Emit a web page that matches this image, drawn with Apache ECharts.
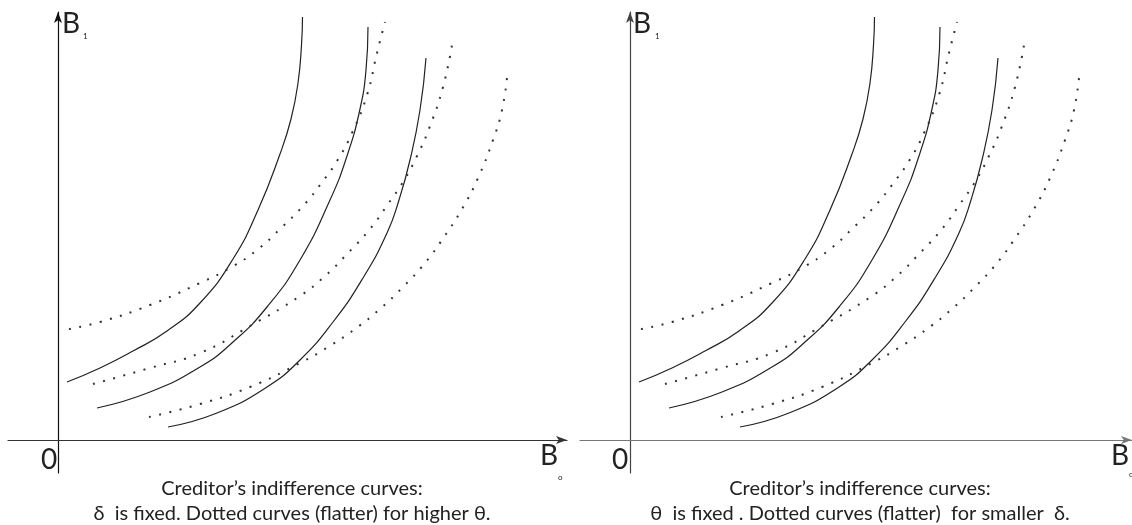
<!DOCTYPE html>
<html>

<head>
    <meta charset="utf-8" />
    <script src="https://cdn.jsdelivr.net/npm/echarts@6/dist/echarts.min.js"></script>
</head>

<body style="margin:0;background:#fff;">
    <div id="main" style="width: 1132px;height:525px;"></div>
    <script type="text/javascript">
        // curve points, [B0, B1] in axis units (1 unit ~ 1px)
        const solid1 = [[9, 58], [42, 72], [75, 89], [109, 109], [142, 137], [175, 181], [200, 230], [222, 286], [233, 321], [240, 357], [243.5, 395], [244.5, 423]];
        const solid2 = [[39, 32], [92, 48], [142, 73], [175, 98], [209, 133], [242, 180], [272, 240], [289, 284], [302, 331], [308, 370], [310, 413]];
        const solid3 = [[110, 13], [159, 27], [209, 53], [242, 80], [275, 118], [305, 162], [329, 207], [341, 240], [352, 280], [362, 330], [368, 382]];
        const dotted1 = [[11, 111], [42, 118], [92, 135], [142, 157], [172, 172], [199, 190], [222, 211], [245, 234], [265, 259], [279, 279], [294, 307], [309, 345], [319, 387], [327, 418]];
        const dotted2 = [[35, 56], [92, 72], [142, 87], [192, 114], [242, 144], [267, 164], [290, 187], [312, 211], [330, 236], [345, 258], [359, 284], [372, 314], [385, 353], [394, 395]];
        const dotted3 = [[91, 23], [142, 36], [192, 53], [242, 77], [270, 93], [297, 111], [322, 131], [345, 153], [367, 177], [386, 203], [404, 231], [420, 262], [435, 300], [444, 330], [449, 362]];

        // both panels show the same shape of curves
        const solidCurves = [solid1, solid2, solid3];
        const dottedCurves = [dotted1, dotted2, dotted3];

        const captions = [
            ['Creditor\u2019s indifference curves:', '\u03b4  is fixed. Dotted curves (flatter) for higher \u03b8.'],
            ['Creditor\u2019s indifference curves:', '\u03b8  is fixed . Dotted curves (flatter)  for smaller  \u03b4.']
        ];

        const myChart = echarts.init(document.getElementById('main'), null, { renderer: 'canvas' });
        const font = "Lato, 'DejaVu Sans', sans-serif";

        function axis(gridIndex, min, max, color) {
            return {
                type: 'value', gridIndex: gridIndex, min: min, max: max,
                axisLine: { show: true, onZero: true, symbol: ['none', 'arrow'], symbolSize: [6, 11], lineStyle: { color: color, width: 1.2 } },
                axisTick: { show: false }, axisLabel: { show: false }, splitLine: { show: false }
            };
        }

        const series = [];
        [0, 1].forEach(function (g) {
            solidCurves.forEach(function (d) {
                series.push({ type: 'line', xAxisIndex: g, yAxisIndex: g, data: d, smooth: 0.5, showSymbol: false, lineStyle: { color: '#222', width: 1.2 } });
            });
            dottedCurves.forEach(function (d) {
                series.push({ type: 'line', xAxisIndex: g, yAxisIndex: g, data: d, smooth: 0.5, showSymbol: false, lineStyle: { color: '#333', width: 2, type: [2, 8.5], cap: 'butt' } });
            });
        });

        function label(x, y, text, size) {
            return { type: 'text', left: x, top: y, style: { text: text, font: size + 'px ' + font, fill: '#222' } };
        }
        function caption(cx, y, text) {
            return { type: 'text', x: cx, y: y, style: { text: text, font: '20px ' + font, fill: '#222', textAlign: 'center', textVerticalAlign: 'middle' } };
        }

        const option = {
            animation: false,
            grid: [
                { left: 8, top: 12, width: 559, height: 461 },
                { left: 580, top: 12, width: 552, height: 461 }
            ],
            xAxis: [axis(0, -50, 509, '#333'), axis(1, -50, 502, '#777')],
            yAxis: [axis(0, -33, 428, '#111'), axis(1, -33, 428, '#444')],
            series: series,
            graphic: [
                label(41, 446, '0', 28), label(612, 446, '0', 28),
                label(62, 10, 'B', 28), label(83, 32, '1', 8),
                label(633, 10, 'B', 28), label(655, 32, '1', 8),
                label(540, 442, 'B', 28), label(558, 473, 'o', 8),
                label(1111, 442, 'B', 28), label(1129, 470, 'o', 8),
                caption(292, 489, captions[0][0]), caption(292, 514, captions[0][1]),
                caption(860, 489, captions[1][0]), caption(860, 514, captions[1][1])
            ]
        };
        myChart.setOption(option);
    </script>
</body>

</html>
